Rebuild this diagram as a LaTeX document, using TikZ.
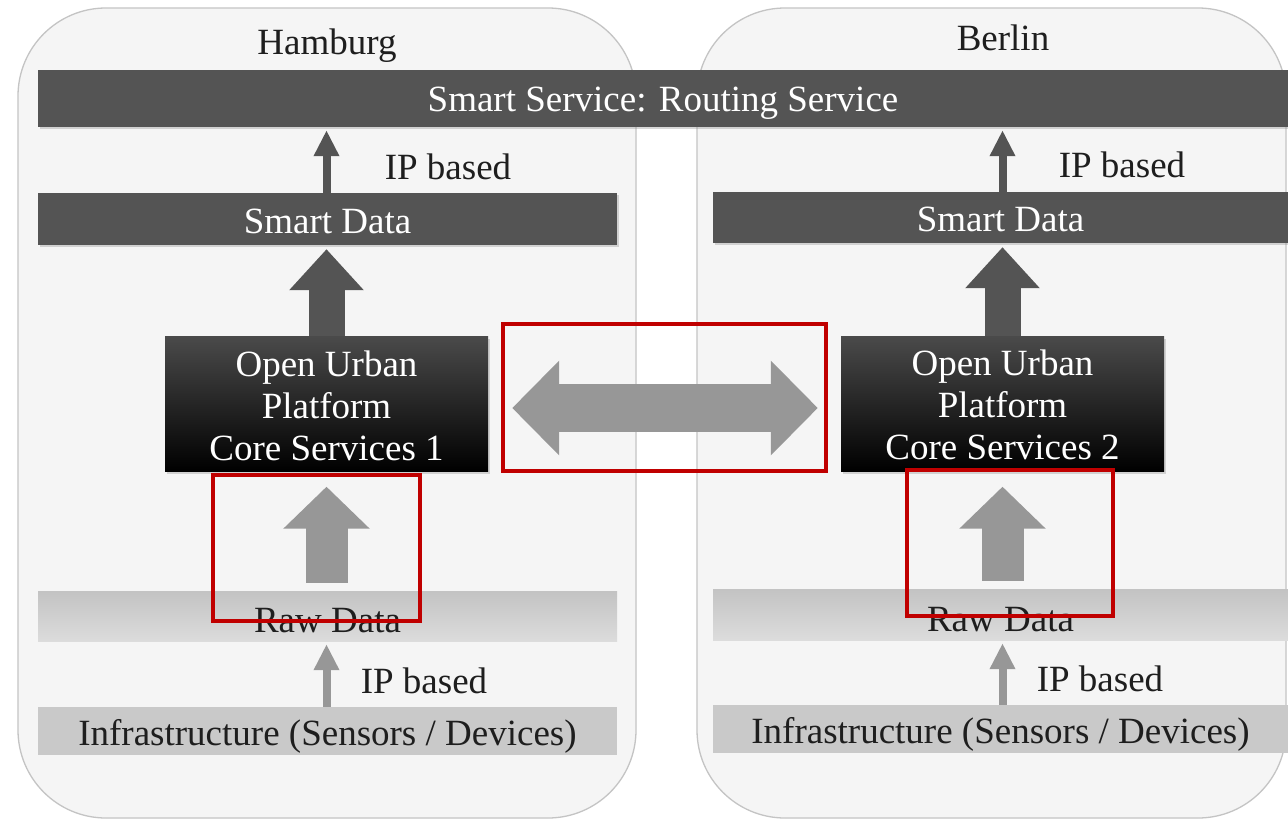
\documentclass[tikz,border=0pt]{standalone}
\usepackage{fontspec}
\setmainfont{Liberation Serif}
\usetikzlibrary{arrows.meta,shadows}
\definecolor{barDark}{HTML}{545454}
\definecolor{arrowLight}{HTML}{979797}
\definecolor{contFill}{HTML}{F5F5F5}
\definecolor{contLine}{HTML}{C4C4C4}
\definecolor{redMark}{HTML}{C00000}
\definecolor{infraFill}{HTML}{C9C9C9}
\definecolor{rawTop}{HTML}{C3C3C3}
\definecolor{rawBot}{HTML}{DCDCDC}
\definecolor{txtDark}{HTML}{1E1E1E}
\definecolor{oupTop}{HTML}{4A4A4A}
\newcommand{\dn}[2]{\raisebox{-#1pt}[\height][\depth]{#2}}
\begin{document}
\begin{tikzpicture}[x=1pt,y=-1pt,
  font=\fontsize{37}{42}\selectfont,
  container/.style={draw=contLine, line width=1.3pt, fill=contFill, rounded corners=88pt, inner sep=0pt},
  shadowed/.style={drop shadow={opacity=0.3,shadow xshift=1.5pt,shadow yshift=-2pt}},
  darkbox/.style={fill=barDark, text=white, inner sep=0pt, shadowed},
  oupbox/.style={top color=oupTop, bottom color=black, text=white, inner sep=0pt, align=center,
    minimum width=323pt, minimum height=135pt, shadowed},
  rawbox/.style={top color=rawTop, bottom color=rawBot, text=txtDark, inner sep=0pt},
  infrabox/.style={fill=infraFill, text=txtDark, inner sep=0pt},
  cityname/.style={text=txtDark, inner sep=0pt},
  iplabel/.style={text=txtDark, inner sep=0pt},
  thinarrow/.style={line width=8pt, -{Triangle[width=24pt,length=26pt]}, shorten >=3pt},
  thickdark/.style={line width=36pt, draw=barDark, -{Triangle[width=72pt,length=41pt]}, shorten >=4pt},
  thicklight/.style={line width=42pt, draw=arrowLight, -{Triangle[width=84pt,length=42pt]}, shorten <=8pt, shorten >=15pt},
  dbl/.style={line width=48pt, draw=arrowLight, {Triangle[width=92pt,length=47pt]}-{Triangle[width=92pt,length=47pt]}, shorten <=24pt, shorten >=23pt},
  redbox/.style={draw=redMark, line width=4pt}
]
\useasboundingbox (0,0) rectangle (1288,822);
\fill[white] (0,0) rectangle (1288,822);

% city containers
\node[container, minimum width=618pt, minimum height=810pt] (hh) at (327,413) {};
\node[container, minimum width=589pt, minimum height=810pt] (be) at (991.5,413) {};
\node[cityname] (hamburg) at (327,42) {\dn{4}{Hamburg}};
\node[cityname] (berlin) at (1003,38) {Berlin};

% shared top bar
\node[darkbox, minimum width=1250pt, minimum height=57pt] (svc) at (663,98.5) {\dn{5}{Smart Service: Routing Service}};

% smart data
\node[darkbox, minimum width=579pt, minimum height=52pt] (sdL) at (327.5,219) {\dn{2}{Smart Data}};
\node[darkbox, minimum width=575pt, minimum height=51pt] (sdR) at (1000.5,217.5) {\dn{2}{Smart Data}};

% open urban platforms
\node[oupbox] (oupL) at (326.5,404) {\dn{6}{\begin{tabular}{@{}c@{}}Open Urban\\Platform\\Core Services 1\end{tabular}}};
\node[oupbox] (oupR) at (1002.5,404) {\dn{5}{\begin{tabular}{@{}c@{}}Open Urban\\Platform\\Core Services 2\end{tabular}}};

% raw data
\node[rawbox, minimum width=579pt, minimum height=50pt] (rawL) at (327.5,616) {\dn{5}{Raw Data}};
\node[rawbox, minimum width=575pt, minimum height=51pt] (rawR) at (1000.5,614.5) {\dn{5}{Raw Data}};

% infrastructure
\node[infrabox, minimum width=579pt, minimum height=48pt] (infL) at (327.5,731) {\dn{5}{Infrastructure (Sensors / Devices)}};
\node[infrabox, minimum width=575pt, minimum height=48pt] (infR) at (1000.5,729) {\dn{5}{Infrastructure (Sensors / Devices)}};

% IP based labels
\node[iplabel] (ipTL) at (448,167) {IP based};
\node[iplabel] (ipTR) at (1122,165) {IP based};
\node[iplabel] (ipBL) at (424,681) {IP based};
\node[iplabel] (ipBR) at (1100,679) {IP based};

% thin arrows
\draw[thinarrow, draw=barDark] (sdL.north -| oupL.north) -- (svc.south -| oupL.north);
\draw[thinarrow, draw=barDark] (sdR.north -| oupR.north) -- (svc.south -| oupR.north);
\draw[thinarrow, draw=arrowLight] (infL.north -| oupL.north) -- (rawL.south -| oupL.north);
\draw[thinarrow, draw=arrowLight] (infR.north -| oupR.north) -- (rawR.south -| oupR.north);

% thick arrows
\draw[thickdark] (oupL.north) -- (sdL.south -| oupL.north);
\draw[thickdark] (oupR.north) -- (sdR.south -| oupR.north);
\draw[thicklight] (rawL.north -| oupL.south) -- (oupL.south);
\draw[thicklight] (rawR.north -| oupR.south) -- (oupR.south);

% exchange arrow
\draw[dbl] ([yshift=-4pt]oupL.east) -- ([yshift=-4pt]oupR.west);

% red highlight boxes
\draw[redbox] (213,475) rectangle (420,621);
\draw[redbox] (907,470) rectangle (1113,616);
\draw[redbox] (503,324) rectangle (826,471);
\end{tikzpicture}
\end{document}
